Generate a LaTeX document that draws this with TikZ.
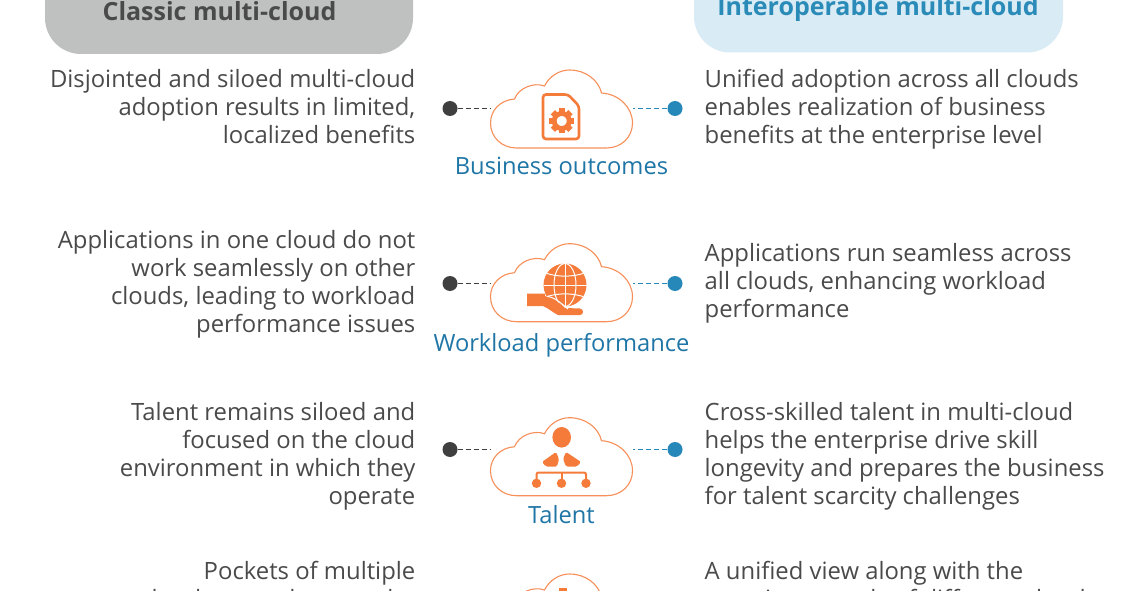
\documentclass[tikz,border=0pt]{standalone}
\usepackage{fontspec}
\setmainfont{Open Sans}
\definecolor{txt}{HTML}{4A4A4A}
\definecolor{lab}{HTML}{1F76A6}
\definecolor{hblue}{HTML}{2A8BB8}
\definecolor{org}{HTML}{F47B3A}
\definecolor{gbox}{HTML}{BFC1C0}
\definecolor{bbox}{HTML}{D9EBF4}
\definecolor{ddot}{HTML}{3F3F3F}
\definecolor{bdot}{HTML}{2688B8}
\tikzset{
 x=1pt,y=-1pt,
 lefttext/.style={anchor=north east,align=right,text=txt,font=\fontsize{23.85}{28}\selectfont,inner sep=0pt},
 righttext/.style={anchor=north west,align=left,text=txt,font=\fontsize{23.85}{28}\selectfont,inner sep=0pt},
 catlabel/.style={anchor=center,text=lab,font=\fontsize{23.7}{28}\selectfont,inner sep=0pt},
 headtext/.style={anchor=center,font=\fontsize{25}{28}\selectfont\bfseries,inner sep=0pt},
 cloudbox/.style={minimum width=143pt,minimum height=78pt,inner sep=0pt,anchor=south},
 dotdark/.style={circle,fill=ddot,minimum size=15pt,inner sep=0pt},
 dotblue/.style={circle,fill=bdot,minimum size=15pt,inner sep=0pt},
 dashdark/.style={draw=ddot,line width=1pt,dash pattern=on 5pt off 3pt},
 dashblue/.style={draw=bdot,line width=1pt,dash pattern=on 5pt off 3pt},
 cloudline/.style={draw=org!85,line width=1.1pt,fill=white},
 cloudshape/.pic={
  \path[cloudline] (-45,0)
   .. controls (-60,0) and (-71,-11) .. (-71,-25)
   .. controls (-71,-38) and (-61,-48) .. (-47,-49)
   .. controls (-43,-60) and (-28,-66) .. (-17,-62)
   .. controls (-12,-72) and (-2,-78) .. (8,-78)
   .. controls (24,-78) and (37,-68) .. (40,-55)
   .. controls (57,-54) and (71,-41) .. (71,-25)
   .. controls (71,-11) and (60,0) .. (45,0) -- cycle;
 }
}
\begin{document}
\begin{tikzpicture}
\useasboundingbox (0,0) rectangle (1130,591);
\clip (0,0) rectangle (1130,591);
% headers
\fill[gbox,rounded corners=36pt] (45,-60) rectangle (413,54);
\fill[bbox,rounded corners=36pt] (694,-60) rectangle (1063,52.5);
\node[headtext,text=txt] (h1) at (219.5,11.5) {Classic multi-cloud};
\node[headtext,text=hblue] (h2) at (878,9) {Interoperable multi-cloud};
% clouds
\foreach \n/\yb in {a/148,b/321.7,c/495.7,d/652}{
  \pic at (561.5,\yb) {cloudshape};
  \node[cloudbox] (cloud\n) at (561.5,\yb) {};
}
% dots and connectors
\node[dotdark] (la) at (450,108.5) {};
\node[dotblue] (ra) at (675,108.5) {};
\node[dotdark] (lb) at (450,283.5) {};
\node[dotblue] (rb) at (675,283.5) {};
\node[dotdark] (lc) at (450,449.5) {};
\node[dotblue] (rc) at (675,449.5) {};
\draw[dashdark] (la) -- (la -| cloudc.west);
\draw[dashblue] (ra) -- (ra -| cloudc.east);
\draw[dashdark] (lb) -- (lb -| cloudc.west);
\draw[dashblue] (rb) -- (rb -| cloudc.east);
\draw[dashdark] (lc) -- (lc -| cloudc.west);
\draw[dashblue] (rc) -- (rc -| cloudc.east);
% icon 1: document with gear
\draw[org,line width=2.6pt,rounded corners=3pt] (543,94.5) -- (568,94.5) -- (579,106) -- (579,139) -- (543,139) -- cycle;
\begin{scope}[shift={(561.7,121)}]
 \foreach \a in {0,45,...,315}{
  \fill[org,rotate=\a] (-3,-12.5) rectangle (3,-7);
 }
 \draw[org,line width=4.8pt] (0,0) circle (7.5);
\end{scope}
% icon 2: globe on hand
\fill[org] (565,285) circle (21.5);
\begin{scope}[draw=white,line width=1pt]
 \draw (565,263.5) -- (565,306.5);
 \draw (543.5,285) -- (586.5,285);
 \draw (565,285) ellipse (11 and 21.5);
 \draw (547,273.5) .. controls (558,277) and (572,277) .. (583,273.5);
 \draw (547,296.5) .. controls (558,293) and (572,293) .. (583,296.5);
\end{scope}
\fill[org] (527,293.5) -- (545,293.5) -- (545,296) .. controls (552,299) and (558,301) .. (565,308) -- (580,308.5)
 .. controls (584,309) and (584,315) .. (580,315) -- (558,315) .. controls (552,312) and (548,308) .. (543,306) -- (527,306) -- cycle;
\draw[white,line width=1pt] (548,296.5) .. controls (556,298) and (562,304) .. (568,309);
% icon 3: person and tree
\fill[org] (561.7,437.3) ellipse (9.3 and 10.3);
\fill[org,rounded corners=1.5pt] (542,462) -- (556,452) -- (559,459) -- (557,466.5) -- (546,466.5) -- cycle;
\fill[org,rounded corners=1.5pt] (581,462) -- (566,452) -- (563,459) -- (566,466.5) -- (577,466.5) -- cycle;
\draw[org,line width=2pt,rounded corners=2pt] (536.5,482) -- (536.5,472.5) -- (586,472.5) -- (586,482);
\draw[org,line width=2pt] (561.5,472.5) -- (561.5,482);
\fill[org] (536.5,483.3) circle (4.7) (561.5,483.3) circle (4.7) (586,483.3) circle (4.7);
% icon 4: the part above the edge
\fill[org] (559,587.5) rectangle (567,595);
% labels
\node[catlabel] (ca) at (561.5,166) {Business outcomes};
\node[catlabel] (cb) at (561.5,345) {Workload performance};
\node[catlabel] (cc) at (561.5,515) {Talent};
% texts
\node[lefttext] (ta) at (415.5,69.5) {Disjointed and siloed multi-cloud\\adoption results in limited,\\localized benefits};
\node[righttext] (ua) at (704.5,69.5) {Unified adoption across all clouds\\enables realization of business\\benefits at the enterprise level};
\node[lefttext] (tb) at (415.5,230) {Applications in one cloud do not\\work seamlessly on other\\clouds, leading to workload\\performance issues};
\node[righttext] (ub) at (704.5,243) {Applications run seamless across\\all clouds, enhancing workload\\performance};
\node[lefttext] (tc) at (415.5,402) {Talent remains siloed and\\focused on the cloud\\environment in which they\\operate};
\node[righttext] (uc) at (704.5,402) {Cross-skilled talent in multi-cloud\\helps the enterprise drive skill\\longevity and prepares the business\\for talent scarcity challenges};
\node[lefttext] (td) at (415.5,561.5) {Pockets of multiple\\clouds spread across the};
\node[righttext] (ud) at (704.5,561.5) {A unified view along with the\\security controls of different clouds};
\end{tikzpicture}
\end{document}
